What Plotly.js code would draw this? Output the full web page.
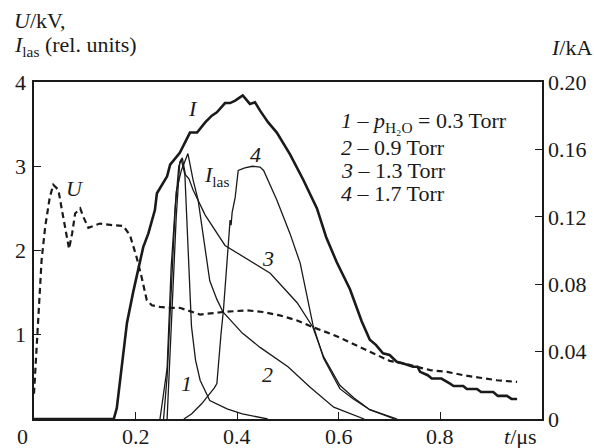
<!DOCTYPE html>
<html>
<head>
<meta charset="utf-8">
<script src="https://cdn.plot.ly/plotly-3.0.1.min.js"></script>
<style>html,body{margin:0;padding:0;background:#fff;}#chart{width:594px;height:448px;}</style>
</head>
<body>
<div id="chart"></div>
<script>
// Discharge current I (kA, right axis)
var tI = [0, 0.157, 0.163, 0.183, 0.195, 0.205, 0.215, 0.225, 0.238, 0.242, 0.262, 0.268, 0.287, 0.307, 0.321, 0.337, 0.350, 0.360, 0.376, 0.386, 0.396, 0.406, 0.411, 0.425, 0.435, 0.445, 0.461, 0.478, 0.504, 0.530, 0.557, 0.575, 0.596, 0.622, 0.645, 0.661, 0.673, 0.687, 0.700, 0.714, 0.727, 0.746, 0.755, 0.760, 0.775, 0.783, 0.802, 0.819, 0.826, 0.845, 0.852, 0.872, 0.880, 0.904, 0.913, 0.931, 0.940, 0.951];
var IkA = [0, 0, 0.0065, 0.057, 0.075, 0.088, 0.102, 0.110, 0.124, 0.134, 0.144, 0.151, 0.158, 0.170, 0.170, 0.176, 0.180, 0.182, 0.1875, 0.1875, 0.189, 0.191, 0.192, 0.187, 0.188, 0.183, 0.176, 0.170, 0.157, 0.142, 0.125, 0.108, 0.093, 0.077, 0.058, 0.047, 0.044, 0.039, 0.038, 0.034, 0.033, 0.031, 0.031, 0.028, 0.026, 0.024, 0.024, 0.021, 0.0196, 0.0196, 0.0178, 0.0178, 0.016, 0.016, 0.0137, 0.0137, 0.0119, 0.0119];
// Voltage U (kV, left axis)
var tU = [0, 0.005, 0.008, 0.015, 0.022, 0.031, 0.038, 0.048, 0.055, 0.065, 0.069, 0.075, 0.081, 0.091, 0.097, 0.107, 0.130, 0.156, 0.176, 0.189, 0.202, 0.212, 0.222, 0.232, 0.248, 0.268, 0.287, 0.327, 0.372, 0.419, 0.45, 0.484, 0.518, 0.549, 0.589, 0.622, 0.655, 0.681, 0.700, 0.727, 0.754, 0.780, 0.813, 0.845, 0.878, 0.911, 0.951];
var UkV = [0.3, 0.85, 1.17, 1.89, 2.28, 2.63, 2.78, 2.72, 2.48, 2.16, 2.02, 2.2, 2.44, 2.50, 2.40, 2.27, 2.32, 2.30, 2.29, 2.18, 1.92, 1.68, 1.41, 1.35, 1.33, 1.32, 1.32, 1.24, 1.27, 1.29, 1.27, 1.23, 1.17, 1.09, 1.0, 0.91, 0.82, 0.74, 0.69, 0.66, 0.62, 0.58, 0.56, 0.52, 0.49, 0.46, 0.44];
// Laser intensity (rel. units, left axis)
var t1 = [0.255, 0.262, 0.270, 0.278, 0.285, 0.290, 0.297, 0.303, 0.310, 0.318, 0.327, 0.346, 0.380, 0.410, 0.460];
var las1 = [0, 0.5, 1.5, 2.5, 3.0, 3.08, 2.9, 2.0, 1.1, 0.7, 0.46, 0.22, 0.12, 0.06, 0];
var t2 = [0.248, 0.255, 0.262, 0.270, 0.280, 0.290, 0.297, 0.303, 0.313, 0.323, 0.335, 0.346, 0.360, 0.372, 0.410, 0.445, 0.500, 0.543, 0.590, 0.650];
var las2 = [0, 0.3, 0.6, 1.8, 2.7, 2.95, 3.05, 3.15, 2.84, 2.6, 2.1, 1.64, 1.42, 1.27, 1.02, 0.85, 0.62, 0.38, 0.14, 0];
var t3 = [0.262, 0.270, 0.280, 0.287, 0.292, 0.298, 0.305, 0.313, 0.337, 0.376, 0.420, 0.465, 0.518, 0.549, 0.570, 0.602, 0.630, 0.661, 0.710];
var las3 = [0, 1.0, 2.4, 3.05, 3.1, 2.9, 2.85, 2.72, 2.42, 2.06, 1.9, 1.73, 1.38, 1.09, 0.74, 0.40, 0.25, 0.11, 0];
var t4 = [0.295, 0.310, 0.330, 0.346, 0.355, 0.360, 0.363, 0.368, 0.373, 0.380, 0.386, 0.388, 0.390, 0.396, 0.402, 0.415, 0.430, 0.445, 0.452, 0.478, 0.504, 0.524, 0.549, 0.570, 0.602, 0.628, 0.661, 0.715];
var las4 = [0, 0.06, 0.18, 0.30, 0.37, 0.42, 0.65, 1.0, 1.3, 1.9, 2.36, 2.3, 2.45, 2.63, 2.95, 2.98, 3.0, 2.99, 2.95, 2.6, 2.2, 1.85, 1.12, 0.72, 0.36, 0.24, 0.11, 0];
// Axis ticks
var xTickVals = [0.2, 0.4, 0.6, 0.8];
var xTickText = ['0.2', '0.4', '0.6', '0.8'];
var yTickVals = [1, 2, 3, 4];
var yTickText = ['1', '2', '3', '4'];
var y2TickVals = [0, 0.04, 0.08, 0.12, 0.16, 0.20];
var y2TickText = ['0', '0.04', '0.08', '0.12', '0.16', '0.20'];

var F = 'Liberation Serif, Times New Roman, serif';
var FS = 22;
var ink = '#1a1a1a';
var thin = {color: ink, width: 1.3};

var traces = [
  {x: tI, y: IkA, yaxis: 'y2', mode: 'lines', line: {color: ink, width: 2.6}},
  {x: tU, y: UkV, mode: 'lines', line: {color: ink, width: 2.2, dash: '6px,4px'}},
  {x: t1, y: las1, mode: 'lines', line: thin},
  {x: t2, y: las2, mode: 'lines', line: thin},
  {x: t3, y: las3, mode: 'lines', line: thin},
  {x: t4, y: las4, mode: 'lines', line: thin}
];

function px2x(px) { return (px - 34) / 508; }
function py2y(py) { return (419 - py) / 337; }
function ann(px, py, text, xa, extra) {
  var a = {xref: 'paper', yref: 'paper', x: px2x(px), y: py2y(py), text: text,
    showarrow: false, xanchor: xa || 'center', yanchor: 'middle',
    font: {family: F, size: FS, color: ink}};
  if (extra) for (var k in extra) a[k] = extra[k];
  return a;
}

var annotations = [
  ann(12, 20, '<i>U</i>/kV,', 'left'),
  ann(12, 46, '<i>I</i><sub>las</sub> (rel. units)', 'left'),
  ann(549, 47, '<i>I</i>/kA', 'left'),
  ann(22, 436, '0', 'center'),
  ann(520, 436, '<i>t</i>/μs', 'center'),
  ann(193, 108, '<i>I</i>'),
  ann(216, 176, '<i>I</i><sub>las</sub>'),
  ann(255, 154, '<i>4</i>'),
  ann(268, 258, '<i>3</i>'),
  ann(267, 374, '<i>2</i>'),
  ann(186, 383, '<i>1</i>'),
  ann(75, 188, '<i>U</i>'),
  ann(339, 122, '<i>1</i> – <i>p</i><sub>H₂O</sub> = 0.3 Torr', 'left'),
  ann(339, 147, '<i>2</i> – 0.9 Torr', 'left'),
  ann(339, 170, '<i>3</i> – 1.3 Torr', 'left'),
  ann(339, 193, '<i>4</i> – 1.7 Torr', 'left')
];
// x tick labels as annotations in data coordinates
for (var i = 0; i < xTickVals.length; i++) {
  annotations.push({xref: 'x', yref: 'paper', x: xTickVals[i], y: py2y(436), text: xTickText[i],
    showarrow: false, xanchor: 'center', yanchor: 'middle', font: {family: F, size: FS, color: ink}});
}

var axCommon = {showgrid: false, zeroline: false, showline: true, linecolor: ink, linewidth: 1.6,
  ticks: 'inside', ticklen: 7, tickwidth: 1.3, tickcolor: ink,
  tickfont: {family: F, size: FS, color: ink}, fixedrange: true};

var layout = {
  width: 594, height: 448,
  margin: {l: 34, r: 52, t: 82, b: 29, pad: 0},
  paper_bgcolor: '#fff', plot_bgcolor: '#fff',
  showlegend: false,
  font: {family: F, size: FS, color: ink},
  xaxis: Object.assign({}, axCommon, {range: [0, 1], tickmode: 'array', tickvals: xTickVals, ticktext: xTickText, mirror: true, showticklabels: false}),
  yaxis: Object.assign({}, axCommon, {range: [0, 4], tickmode: 'array', tickvals: yTickVals, ticktext: yTickText, ticklabelstandoff: 2}),
  yaxis2: Object.assign({}, axCommon, {range: [0, 0.2], overlaying: 'y', side: 'right', tickmode: 'array', tickvals: y2TickVals, ticktext: y2TickText, ticklabelstandoff: 0}),
  annotations: annotations
};

Plotly.newPlot('chart', traces, layout, {staticPlot: true, displayModeBar: false});
</script>
</body>
</html>
